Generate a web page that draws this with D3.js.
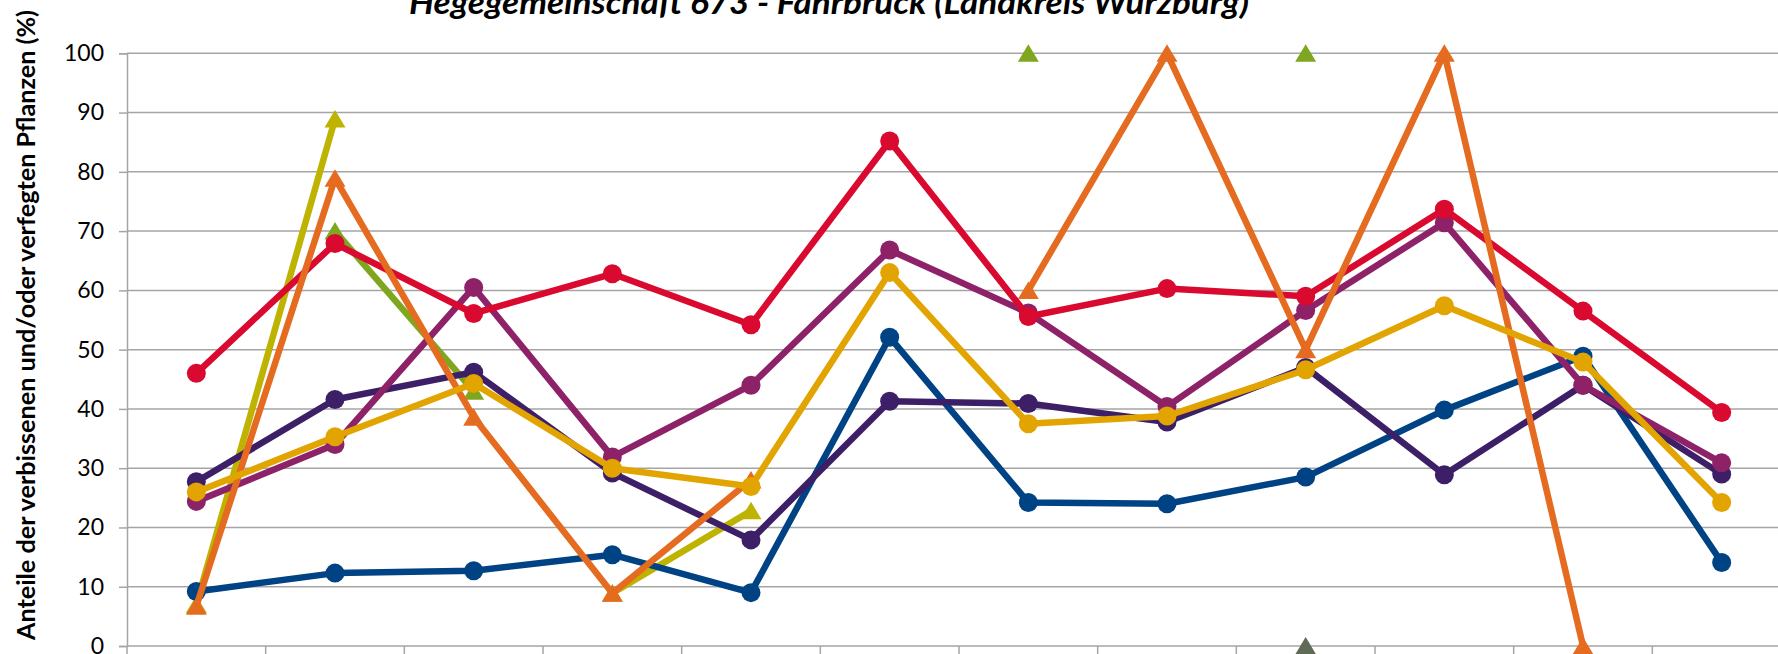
<!DOCTYPE html>
<html>
<head>
<meta charset="utf-8">
<script src="https://cdn.jsdelivr.net/npm/d3@7"></script>
<style>
  body { margin: 0; background: #fff; }
  svg { display: block; font-family: Lato, "Open Sans", sans-serif; }
</style>
</head>
<body>
<div id="chart"></div>
<script>
// 1: DATA (null = no value)
const categories = ["1", "2", "3", "4", "5", "6", "7", "8", "9", "10", "11", "12"];
const yTicks = [0, 10, 20, 30, 40, 50, 60, 70, 80, 90, 100];

const blueValues    = [9.2, 12.3, 12.7, 15.4, 9.0, 52.1, 24.2, 24.0, 28.5, 39.8, 48.9, 14.1];
const purpleValues  = [27.7, 41.6, 46.2, 29.2, 17.9, 41.3, 40.9, 37.8, 47.0, 28.9, 44.0, 29.0];
const magentaValues = [24.4, 34.0, 60.5, 31.9, 44.0, 66.8, 56.2, 40.4, 56.6, 71.4, 44.0, 30.9];
const redValues     = [46.0, 67.9, 56.1, 62.8, 54.2, 85.2, 55.6, 60.3, 59.0, 73.7, 56.5, 39.4];
const goldValues    = [26.0, 35.3, 44.3, 30.0, 26.9, 63.0, 37.5, 38.8, 46.6, 57.4, 47.9, 24.2];
const orangeValues  = [6.7, 78.9, 38.6, 8.9, 28.0, null, 60.0, 100, 50.0, 100, 0, null];
const greenValues   = [null, 70.0, 43.0, null, null, null, 100, null, 100, null, null, null];
const oliveValues   = [7.0, 88.9, null, 8.9, 22.8, null, null, null, null, null, null, null];
const greyValues    = [null, null, null, null, null, null, null, null, 0, null, null, null];

const title = "Hegegemeinschaft 673 - Fährbrück (Landkreis Würzburg)";
const yLabel = "Anteile der verbissenen und/oder verfegten Pflanzen (%)";

// drawing order: first is at the bottom
const series = [
    { name: "olive",   values: oliveValues,   color: "#bdb300", marker: "triangle" },
    { name: "green",   values: greenValues,   color: "#7ea71f", marker: "triangle" },
    { name: "grey",    values: greyValues,    color: "#5f6b56", marker: "triangle" },
    { name: "blue",    values: blueValues,    color: "#004385", marker: "circle" },
    { name: "purple",  values: purpleValues,  color: "#3d1f68", marker: "circle" },
    { name: "magenta", values: magentaValues, color: "#8e2268", marker: "circle" },
    { name: "red",     values: redValues,     color: "#d9092f", marker: "circle" },
    { name: "orange",  values: orangeValues,  color: "#e46b1f", marker: "triangle" },
    { name: "gold",    values: goldValues,    color: "#e2a400", marker: "circle" }
];

// 2: LAYOUT
const W = 1778, H = 654;
const plot = { left: 127, right: 1791, top: 53.3, bottom: 646 };

const svg = d3.select("#chart")
    .append("svg")
    .attr("width", W)
    .attr("height", H);

const xScale = d3.scaleBand()
    .domain(categories)
    .range([plot.left, plot.right])
    .padding(0);

const yScale = d3.scaleLinear()
    .domain([0, 100])
    .range([plot.bottom, plot.top]);

const xc = c => xScale(c) + xScale.bandwidth() / 2;

// gridlines
svg.append("g")
    .selectAll("line")
    .data(yTicks)
    .enter()
    .append("line")
    .attr("x1", plot.left)
    .attr("x2", W)
    .attr("y1", d => yScale(d))
    .attr("y2", d => yScale(d))
    .attr("stroke", "#a5a5a5")
    .attr("stroke-width", 1.5);

// y axis
const yAxis = svg.append("g")
    .attr("transform", `translate(${plot.left},0)`)
    .call(d3.axisLeft(yScale).tickValues(yTicks).tickSize(8).tickPadding(15));
yAxis.select(".domain").attr("stroke", "#a5a5a5").attr("stroke-width", 1.5);
yAxis.selectAll(".tick line").attr("stroke", "#a5a5a5").attr("stroke-width", 1.5);
yAxis.selectAll("text")
    .attr("font-family", "Lato, sans-serif")
    .attr("font-size", 23)
    .attr("fill", "#000");

// x axis (labels fall outside the picture)
const xAxis = svg.append("g")
    .attr("transform", `translate(0,${plot.bottom})`)
    .call(d3.axisBottom(xScale).tickSize(0).tickFormat(""));
xAxis.select(".domain").remove();
xAxis.append("g")
    .selectAll("line")
    .data(categories.concat(["end"]))
    .enter()
    .append("line")
    .attr("x1", (d, i) => plot.left + i * xScale.bandwidth())
    .attr("x2", (d, i) => plot.left + i * xScale.bandwidth())
    .attr("y1", 0)
    .attr("y2", 10)
    .attr("stroke", "#a5a5a5")
    .attr("stroke-width", 1.5);

// 3: LINES AND MARKERS
const line = d3.line()
    .defined(d => d != null)
    .x((d, i) => xc(categories[i]))
    .y(d => yScale(d));

const triangle = "M0,-9L10.5,8.5L-10.5,8.5Z";

series.forEach(s => {
    const g = svg.append("g").attr("class", "series " + s.name);

    g.append("path")
        .datum(s.values)
        .attr("fill", "none")
        .attr("stroke", s.color)
        .attr("stroke-width", 6.5)
        .attr("stroke-linejoin", "round")
        .attr("d", line);

    const pts = s.values
        .map((v, i) => ({ cat: categories[i], v: v }))
        .filter(d => d.v != null);

    if (s.marker === "circle") {
        g.selectAll("circle")
            .data(pts)
            .enter()
            .append("circle")
            .attr("cx", d => xc(d.cat))
            .attr("cy", d => yScale(d.v))
            .attr("r", 9.5)
            .attr("fill", s.color);
    } else {
        g.selectAll("path.marker")
            .data(pts)
            .enter()
            .append("path")
            .attr("class", "marker")
            .attr("transform", d => `translate(${xc(d.cat)},${yScale(d.v)})`)
            .attr("d", triangle)
            .attr("fill", s.color);
    }
});

// 4: TEXTS
svg.append("text")
    .attr("x", 829)
    .attr("y", 14)
    .attr("text-anchor", "middle")
    .attr("font-family", "Lato, sans-serif")
    .attr("font-size", 32)
    .attr("font-weight", "bold")
    .attr("font-style", "italic")
    .attr("fill", "#000")
    .attr("textLength", 840)
    .attr("lengthAdjust", "spacingAndGlyphs")
    .text(title);

svg.append("text")
    .attr("transform", `translate(35,325) rotate(-90)`)
    .attr("text-anchor", "middle")
    .attr("font-family", "Lato, sans-serif")
    .attr("font-size", 24)
    .attr("font-weight", "bold")
    .attr("fill", "#000")
    .attr("textLength", 630)
    .attr("lengthAdjust", "spacingAndGlyphs")
    .text(yLabel);
</script>
</body>
</html>
